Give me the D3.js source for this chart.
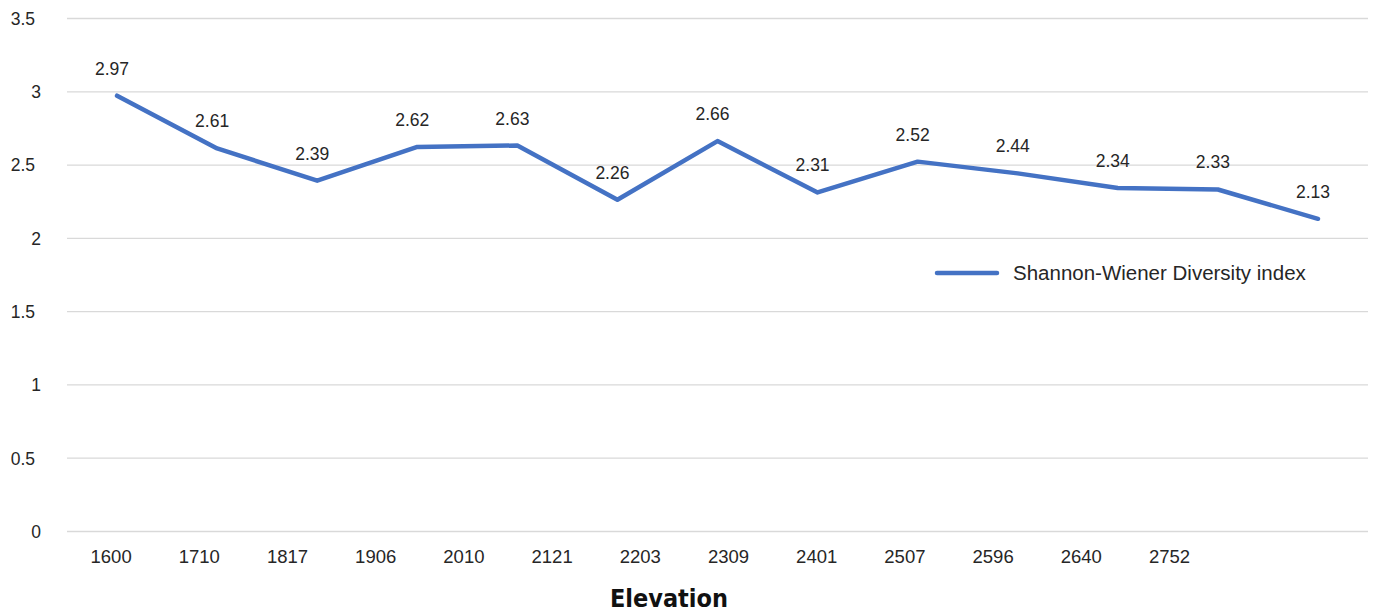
<!DOCTYPE html>
<html>
<head>
<meta charset="utf-8">
<script src="https://cdn.jsdelivr.net/npm/d3@7"></script>
<style>
  html, body { margin: 0; padding: 0; background: #ffffff; }
  svg { display: block; }
</style>
</head>
<body>
<svg id="chart" width="1375" height="615"></svg>
<script>
// Elevation bands (m) and Shannon-Wiener diversity per band
const elevations = ["1600", "1710", "1817", "1906", "2010", "2121", "2203",
                    "2309", "2401", "2507", "2596", "2640", "2752"];
const diversity = [2.97, 2.61, 2.39, 2.62, 2.63, 2.26, 2.66,
                   2.31, 2.52, 2.44, 2.34, 2.33, 2.13];
const yTicks = [0, 0.5, 1, 1.5, 2, 2.5, 3, 3.5];
const seriesName = "Shannon-Wiener Diversity index";
const axisTitle = "Elevation";

const svg = d3.select("#chart");
const textColor = "#262626";
const lineColor = "#4472C4";
const fontMain = "'Liberation Sans', Arial, sans-serif";

const plotLeft = 67, plotRight = 1368, plotTop = 18, plotBottom = 531;

const y = d3.scaleLinear().domain([0, 3.5]).range([plotBottom, plotTop]);

// Series positions across the full plot width
const xPts = d3.scaleBand().domain(elevations).range([plotLeft, plotRight]);
// Category labels sit on a tighter band
const xLab = d3.scaleBand().domain(elevations).range([plotLeft, plotLeft + 13 * 88.2]);

// Gridlines and value-axis labels
const yAxis = d3.axisLeft(y).tickValues(yTicks)
  .tickSize(-(plotRight - plotLeft)).tickPadding(0)
  .tickFormat(d => d3.format("")(d));
const gy = svg.append("g").attr("transform", `translate(${plotLeft},0)`).call(yAxis);
gy.select(".domain").remove();
gy.selectAll(".tick line").attr("stroke", "#d9d9d9").attr("stroke-width", 1.3);
gy.selectAll(".tick text")
  .attr("x", d => (Number.isInteger(d) ? 41 : 35) - plotLeft)
  .attr("text-anchor", "end")
  .attr("dy", "0.36em")
  .attr("fill", textColor)
  .style("font-family", fontMain)
  .style("font-size", "17.5px");

// Category axis labels
const xAxis = d3.axisBottom(xLab).tickSize(0).tickPadding(0);
const gx = svg.append("g").attr("transform", `translate(0,${plotBottom})`).call(xAxis);
gx.select(".domain").remove();
gx.selectAll(".tick text")
  .attr("y", 32)
  .attr("dy", 0)
  .attr("fill", textColor)
  .style("font-family", fontMain)
  .style("font-size", "18.5px");

// Series line
const line = d3.line()
  .x((d, i) => xPts(elevations[i]) + xPts.bandwidth() / 2)
  .y(d => y(d));

svg.append("path")
  .datum(diversity)
  .attr("d", line)
  .attr("fill", "none")
  .attr("stroke", lineColor)
  .attr("stroke-width", 4.5)
  .attr("stroke-linecap", "round")
  .attr("stroke-linejoin", "round");

// Value labels above each point
svg.append("g").selectAll("text")
  .data(diversity)
  .join("text")
  .attr("x", (d, i) => xPts(elevations[i]) + xPts.bandwidth() / 2 - 5)
  .attr("y", d => y(d) - 21)
  .attr("text-anchor", "middle")
  .attr("fill", textColor)
  .style("font-family", fontMain)
  .style("font-size", "17.5px")
  .text(d => d3.format(".2f")(d));

// Legend
const legend = svg.append("g").attr("transform", "translate(937,273)");
legend.append("line")
  .attr("x1", 0).attr("x2", 60).attr("y1", 0).attr("y2", 0)
  .attr("stroke", lineColor).attr("stroke-width", 4.5).attr("stroke-linecap", "round");
legend.append("text")
  .attr("x", 76).attr("y", 7)
  .attr("fill", textColor)
  .style("font-family", fontMain)
  .style("font-size", "20.5px")
  .text(seriesName);

// Axis title
svg.append("text")
  .attr("x", 669).attr("y", 607)
  .attr("text-anchor", "middle")
  .attr("fill", "#111111")
  .style("font-family", "'DejaVu Sans Condensed', 'DejaVu Sans', sans-serif")
  .style("font-weight", "bold")
  .style("font-stretch", "condensed")
  .style("font-size", "25px")
  .text(axisTitle);
</script>
</body>
</html>
